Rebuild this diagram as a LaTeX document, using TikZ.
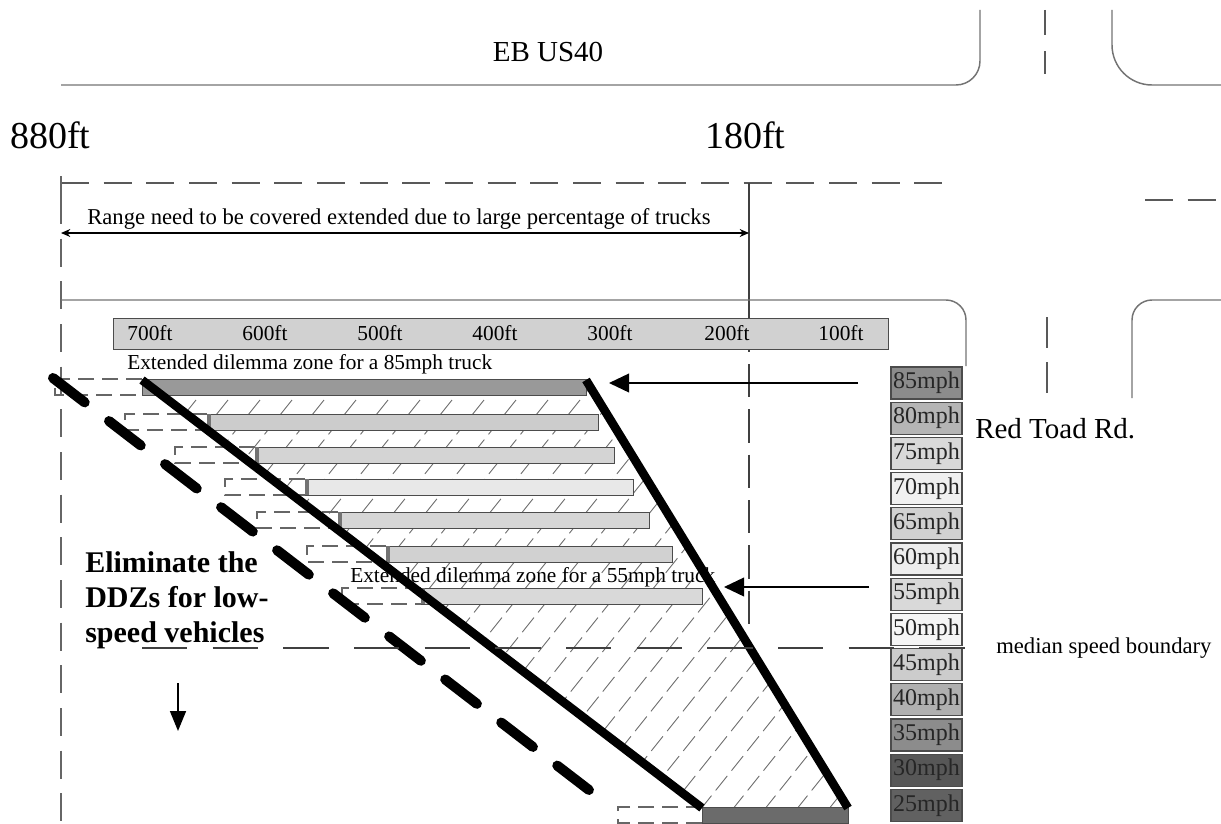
\documentclass[tikz,border=0pt]{standalone}
\usepackage{fontspec}
\setmainfont{Liberation Serif}
\usetikzlibrary{arrows.meta}
\begin{document}
\begin{tikzpicture}[x=0.75pt,y=-0.75pt,
  road/.style={draw=black!55, line width=1.1pt},
  dashln/.style={draw=black!65, line width=1.1pt, dash pattern=on 21pt off 11pt},
  barbox/.style={draw=black!70, line width=0.9pt, inner sep=0pt, minimum height=12pt, anchor=north west},
  bracket/.style={draw=black!60, line width=0.9pt, dash pattern=on 12pt off 6pt},
  spd/.style={draw=black!70, line width=1pt, minimum width=53.25pt, minimum height=24pt, inner sep=0pt, font=\fontsize{18}{18}\selectfont, text=black!85},
  lbl/.style={inner sep=0pt, anchor=base west},
  thickln/.style={line width=6.5pt},
  hatchln/.style={draw=black!55, line width=0.7pt, dash pattern=on 14pt off 5pt},
  bigarrow/.style={line width=1.2pt, -{Triangle[length=15pt,width=14pt]}},
]
\useasboundingbox (0,0) rectangle (1221,824);

% ---- road at top ----
\coordinate (r1) at (61,85);
\coordinate (r2) at (980,85);
\coordinate (r3) at (980,10);
\draw[road, rounded corners=18pt] (r1) -- (r2) -- (r3);
\coordinate (r4) at (1221,85);
\coordinate (r5) at (1112,85);
\coordinate (r6) at (1112,10);
\draw[road, rounded corners=30pt] (r4) -- (r5) -- (r6);
\coordinate (c1) at (1045,10);
\coordinate (c2) at (1045,74);
\draw[dashln, dash pattern=on 19pt off 12pt] (c1) -- (c2);
\node[lbl, font=\fontsize{21.75}{21.75}\selectfont, anchor=base] (eb) at (548,62) {EB US40};

% ---- distances ----
\node[lbl, font=\fontsize{28.5}{28.5}\selectfont] (d880) at (10,148) {880ft};
\node[lbl, font=\fontsize{28.5}{28.5}\selectfont] (d180) at (705,148) {180ft};

\coordinate (h1) at (61,183);
\coordinate (h2) at (946,183);
\draw[dashln] (h1) -- (h2);
\coordinate (h3) at (1145,200);
\coordinate (h4) at (1221,200);
\draw[dashln] (h3) -- (h4);

\coordinate (L0) at (61,176);
\coordinate (L1) at (61,196);
\coordinate (L2) at (61,824);
\draw[draw=black!60, line width=1pt] (L0) -- (L1);
\draw[draw=black!60, line width=1pt, dash pattern=on 21pt off 11pt] (L1) -- (L2);

\coordinate (M0) at (749,183);
\coordinate (M1) at (749,352);
\coordinate (M2) at (749,364);
\coordinate (M3) at (749,625);
\draw[draw=black!75, line width=1pt] (M0) -- (M1);
\draw[draw=black!75, line width=1pt, dash pattern=on 25pt off 9pt] (M2) -- (M3);

\coordinate (ar1) at (61,233);
\coordinate (ar2) at (749,233);
\draw[line width=1pt, {Stealth[length=7pt,width=6pt]}-{Stealth[length=7pt,width=6pt]}] (ar1) -- (ar2);
\node[lbl, font=\fontsize{17}{17}\selectfont] (range) at (87,224) {Range need to be covered extended due to large percentage of trucks};

% ---- middle road edges ----
\coordinate (s1) at (61,300);
\coordinate (s2) at (966,300);
\coordinate (s3) at (966,366);
\draw[road, rounded corners=15pt] (s1) -- (s2) -- (s3);
\coordinate (t1) at (1221,300);
\coordinate (t2) at (1132,300);
\coordinate (t3) at (1132,398);
\draw[road, rounded corners=15pt] (t1) -- (t2) -- (t3);
\coordinate (u1) at (1047,317);
\coordinate (u2) at (1047,394);
\draw[dashln, dash pattern=on 23pt off 11pt] (u1) -- (u2);

% ---- scale bar ----
\node[draw=black!70, line width=0.9pt, fill=black!18, inner sep=0pt, minimum width=581.25pt, minimum height=23pt, anchor=north west] (scale) at (113,318) {};
\foreach \t/\xx in {700/150,600/265,500/380,400/495,300/610,200/727,100/841}
  \node[inner sep=0pt, anchor=base, font=\fontsize{16}{16}\selectfont] (sc\t) at (\xx,340) {\t ft};

\node[lbl, font=\fontsize{16}{16}\selectfont] (ext85) at (127,369) {Extended dilemma zone for a 85mph truck};

% ---- hatched zone ----
\coordinate (TL) at (142,380);
\coordinate (TR) at (586,380);
\coordinate (BR) at (848,808);
\coordinate (BL) at (702,808);
\begin{scope}
  \clip (TL) -- (TR) -- (BR) -- (BL) -- cycle;
  \foreach \c in {-340,-308,...,860}
    \draw[hatchln] (\c,830) -- ++(380,-475);
\end{scope}

% ---- bars ----
\foreach \n/\l/\r/\tp/\g/\bl in {85/142/586/379/40/55, 80/207/598/414/20/125, 75/255/614/447/17/175, 70/305/633/479/9/225, 65/338/649/512/16/257, 60/386/672/546/18/307, 55/421/702/588/15/342, 25/702/848/807/58/618}{
  \draw[bracket] (\l,\tp) -- (\bl,\tp) -- (\bl,\tp+16) -- (\l,\tp+16);
  \node[barbox, fill=black!\g, minimum width={(\r-\l)*0.75pt}] (bar\n) at (\l,\tp) {};
}
\foreach \n/\l/\tp in {80/207/414, 75/255/447, 70/305/479, 65/338/512, 60/386/546, 55/421/588}
  \fill[black!55] (\l,\tp) rectangle (\l+4,\tp+16);

\node[lbl, font=\fontsize{16}{16}\selectfont] (ext55) at (350,582) {Extended dilemma zone for a 55mph truck};

% ---- thick boundary lines ----
\draw[thickln] (TL) -- (BL);
\draw[thickln] (TR) -- (BR);
\coordinate (D1) at (53,378);
\coordinate (D2) at (602,800);
\draw[line width=7.5pt, line cap=round, dash pattern=on 30pt off 23pt] (D1) -- (D2);

% ---- arrows ----
\coordinate (a85s) at (858,383);
\coordinate (a85e) at (609,383);
\draw[bigarrow] (a85s) -- (a85e);
\coordinate (a55s) at (869,587);
\coordinate (a55e) at (724,587);
\draw[bigarrow] (a55s) -- (a55e);

% ---- speed boxes ----
\foreach \s/\g [count=\i from 0] in {85/45,80/29,75/15,70/6,65/18,60/7,55/15,50/4,45/20,40/31,35/45,30/66,25/62}
  \node[spd, fill=black!\g] (sp\s) at (926.5,{383+35.2*\i}) {\s mph};

\node[lbl, font=\fontsize{21.75}{21.75}\selectfont] (red) at (975,438) {Red Toad Rd.};

% ---- median speed boundary ----
\coordinate (md1) at (142,648);
\coordinate (md2) at (985,648);
\draw[draw=black!75, line width=1.6pt, dash pattern=on 34pt off 19pt] (md1) -- (md2);
\node[lbl, font=\fontsize{17}{17}\selectfont] (median) at (996,653) {median speed boundary};

% ---- eliminate text ----
\node[lbl, font=\fontsize{22.5}{26.25}\selectfont\bfseries, align=left, anchor=north west] (elim) at (85,551) {Eliminate the\\DDZs for low-\\speed vehicles};
\coordinate (dn1) at (178,683);
\coordinate (dn2) at (178,731);
\draw[line width=1.2pt, -{Triangle[length=15pt,width=12pt]}] (dn1) -- (dn2);
\end{tikzpicture}
\end{document}
